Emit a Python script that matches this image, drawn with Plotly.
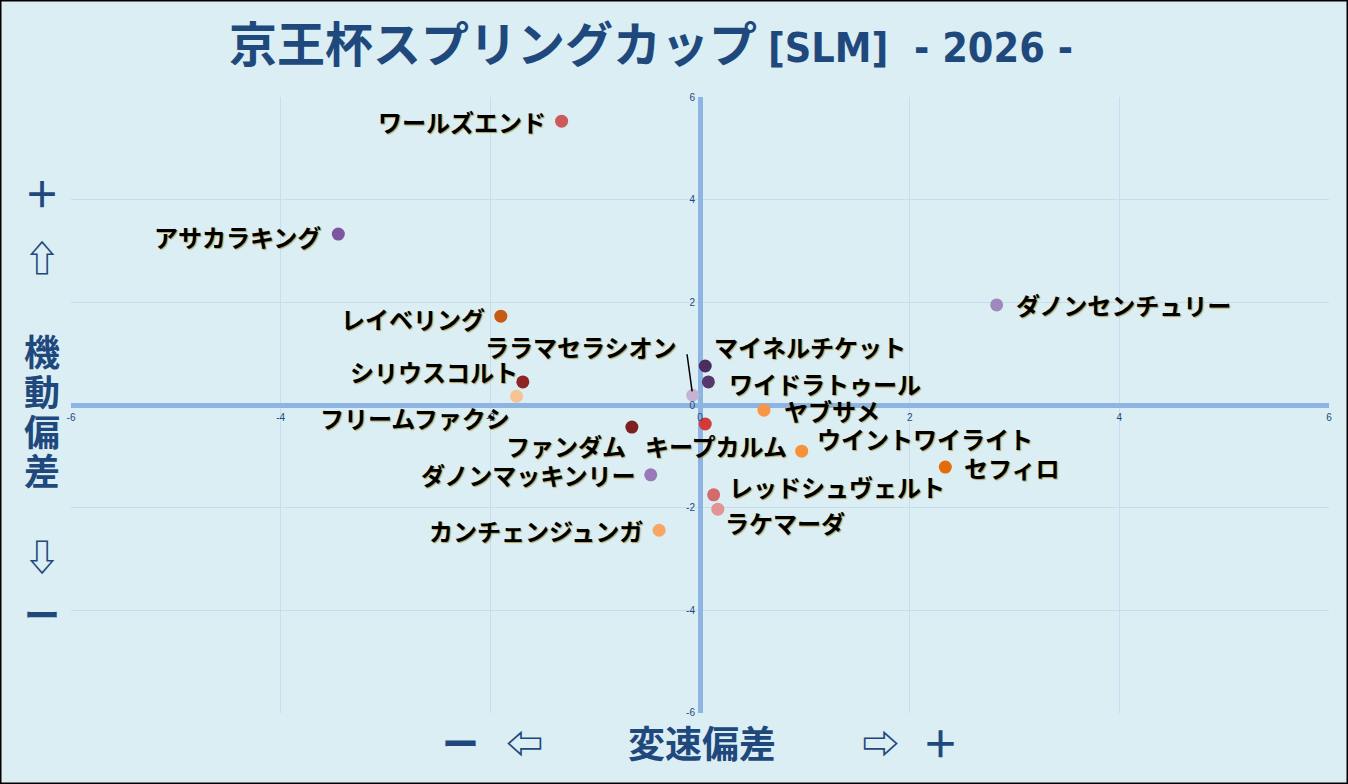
import plotly.graph_objects as go

# horses / values
names = ["ワールズエンド", "アサカラキング", "ダノンセンチュリー", "レイベリング",
         "マイネルチケット", "ワイドラトゥール", "シリウスコルト", "フリームファクシ",
         "ララマセラシオン", "ヤブサメ", "キープカルム", "ファンダム",
         "ウイントワイライト", "セフィロ", "ダノンマッキンリー", "レッドシュヴェルト",
         "ラケマーダ", "カンチェンジュンガ"]
speed_dev = [-1.32, -3.45, 2.83, -1.90, 0.05, 0.08, -1.69, -1.75, -0.07, 0.61,
             0.05, -0.65, 0.97, 2.34, -0.47, 0.13, 0.17, -0.39]
mobility_dev = [5.53, 3.33, 1.95, 1.73, 0.76, 0.45, 0.45, 0.17, 0.19, -0.10,
                -0.37, -0.43, -0.90, -1.21, -1.36, -1.75, -2.03, -2.44]
colors = ["#CB5A5A", "#7E55A0", "#A088BE", "#C55A11", "#4B2D5F", "#56386F",
          "#8E2424", "#F8C191", "#C5B3D6", "#F79646", "#D43A3A", "#7B1F1F",
          "#F7923A", "#E36C09", "#9A79BA", "#D46A6A", "#E29494", "#F9A664"]

tick_vals = [-6, -4, -2, 0, 2, 4, 6]
tick_text = ["-6", "-4", "-2", "0", "2", "4", "6"]

# label placement: anchor side and pixel shift from the point (dy: up is +)
label_anchor = ["right", "right", "left", "right", "left", "left", "right", "right",
                "right", "left", "center", "right", "left", "left", "right", "left",
                "left", "right"]
label_dx = [-14, -15, 17, -14, 7, 19, -3, -5, -14, 18, 11, -4, 13, 17, -13, 13, 5, -14]
label_dy = [0, -2, 0, -2, 19, -2, 10, -21, 49, 0, -22, -18, 13, 0, 0, 8, -13, 0]
leader_idx = 8  # ララマセラシオン has a leader line

W, H = 1348, 784
L, R, T, B = 71, 19, 97, 71
PW, PH = W - L - R, H - T - B

NAVY = "#1F497D"
JP = "Noto Sans CJK JP"


def px(x):
    return (x - L) / PW


def py(y):
    return (H - B - y) / PH


fig = go.Figure()
fig.add_trace(go.Scatter(
    x=speed_dev, y=mobility_dev, mode="markers",
    marker=dict(size=13, color=colors, line=dict(width=0)),
    text=names, hoverinfo="text", showlegend=False))

shadow = "1px 1px 1px rgba(150,110,0,0.6)"
annotations = []
for n, xv, yv, a, dx, dy in zip(names, speed_dev, mobility_dev, label_anchor, label_dx, label_dy):
    annotations.append(dict(x=xv, y=yv, text=n, showarrow=False, xanchor=a,
                            yanchor="middle", xshift=dx, yshift=dy,
                            font=dict(family=JP, size=24, color="black", weight="bold", shadow=shadow)))

# leader line from the label down to its point
annotations.append(dict(x=speed_dev[leader_idx], y=mobility_dev[leader_idx], text=" ",
                        showarrow=True, arrowhead=0, arrowwidth=1.5, arrowcolor="black",
                        ax=-7, ay=-51, standoff=4))

# side axis captions
left_chars = ["＋", "⇧", "機", "動", "偏", "差", "⇩", "ー"]
left_y = [192, 256, 350, 390, 430, 469, 555, 613]
for c, yy in zip(left_chars, left_y):
    annotations.append(dict(x=px(42), y=py(yy), xref="paper", yref="paper", text=c,
                            xanchor="center", yanchor="middle", showarrow=False,
                            font=dict(family=JP, size=36, color=NAVY, weight="bold")))

bottom_text = ["ー", "⇦", "変速偏差", "⇨", "＋"]
bottom_x = [460, 524, 702, 880, 940]
for c, xx in zip(bottom_text, bottom_x):
    annotations.append(dict(x=px(xx), y=py(742), xref="paper", yref="paper", text=c,
                            xanchor="center", yanchor="middle", showarrow=False,
                            font=dict(family=JP, size=37, color=NAVY, weight="bold")))

# outer frame
shapes = [dict(type="rect", xref="paper", yref="paper", x0=px(0.5), x1=px(W - 0.5),
               y0=py(H - 0.5), y1=py(0.5), line=dict(color="black", width=2))]

axis_common = dict(range=[-6.0001, 6.0001], tickvals=tick_vals, ticktext=tick_text,
                   showgrid=True, gridcolor="#C8DCEF", gridwidth=1,
                   zeroline=True, zerolinecolor="#8DB4E2", zerolinewidth=5,
                   anchor="free", position=0.5, showline=False, ticks="outside", ticklen=3,
                   tickcolor="rgba(0,0,0,0)", tickfont=dict(family="Liberation Sans", size=10, color=NAVY),
                   fixedrange=True)

title_text = ("京王杯スプリングカップ "
              "<span style=\"font-family:'DejaVu Sans Condensed','Liberation Sans Narrow';font-size:41px\">"
              "[SLM]  - 2026 -</span>")

fig.update_layout(
    width=W, height=H,
    margin=dict(l=L, r=R, t=T, b=B),
    paper_bgcolor="#DAEEF3", plot_bgcolor="#DAEEF3",
    title=dict(text=title_text, x=651 / W, xanchor="center", y=1 - 45 / H, yanchor="middle",
               xref="container", yref="container",
               font=dict(family=JP, size=48, color=NAVY, weight="bold")),
    xaxis=dict(axis_common),
    yaxis=dict(axis_common),
    annotations=annotations,
    shapes=shapes,
)

fig.write_html("out.html", config={"displayModeBar": False},
               post_script="document.body.style.margin='0';")
